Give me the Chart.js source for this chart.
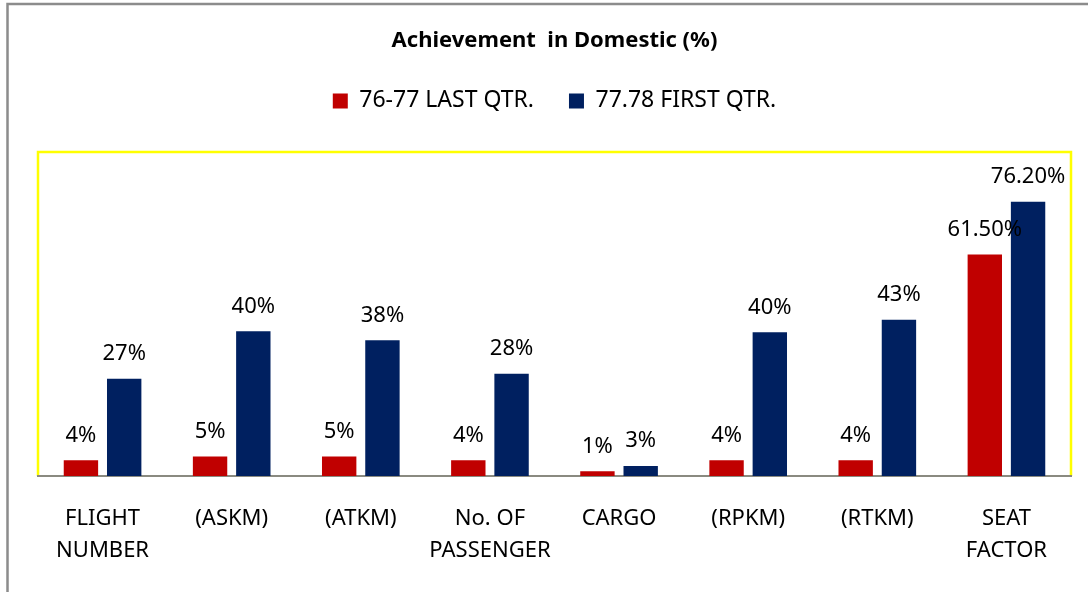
<!DOCTYPE html>
<html>
<head>
<meta charset="utf-8">
<script src="https://cdn.jsdelivr.net/npm/chart.js@4.4.1/dist/chart.umd.min.js"></script>
<style>
  body { margin: 0; background: #fff; }
  #wrap { width: 1088px; height: 592px; position: relative; }
</style>
</head>
<body>
<div id="wrap"><canvas id="achChart"></canvas></div>
<script>
const categories = [['FLIGHT', 'NUMBER'], '(ASKM)', '(ATKM)', ['No. OF', 'PASSENGER'], 'CARGO', '(RPKM)', '(RTKM)', ['SEAT', 'FACTOR']];
const lastQtr = [4.4, 5.4, 5.4, 4.4, 1.3, 4.4, 4.4, 61.5];
const firstQtr = [27, 40.2, 37.7, 28.4, 2.8, 39.9, 43.4, 76.2];
const lastQtrLabels = ['4%', '5%', '5%', '4%', '1%', '4%', '4%', '61.50%'];
const firstQtrLabels = ['27%', '40%', '38%', '28%', '3%', '40%', '43%', '76.20%'];

const FONT = 'Noto Sans';

// frame around the whole chart and the yellow plot box
const framePlugin = {
    id: 'frame',
    beforeDraw(chart) {
        const ctx = chart.ctx;
        const a = chart.chartArea;
        ctx.save();
        ctx.strokeStyle = '#8c8c8c';
        ctx.lineWidth = 2.5;
        ctx.beginPath();
        ctx.moveTo(7.5, chart.height);
        ctx.lineTo(7.5, 4);
        ctx.lineTo(chart.width, 4);
        ctx.stroke();

        ctx.strokeStyle = '#ffff00';
        ctx.lineWidth = 2.5;
        ctx.beginPath();
        ctx.moveTo(a.left, a.bottom);
        ctx.lineTo(a.left, a.top);
        ctx.lineTo(a.right, a.top);
        ctx.lineTo(a.right, a.bottom);
        ctx.stroke();
        ctx.restore();
    }
};

// value labels above each bar
const valueLabels = {
    id: 'valueLabels',
    afterDatasetsDraw(chart) {
        const ctx = chart.ctx;
        const texts = [lastQtrLabels, firstQtrLabels];
        ctx.save();
        ctx.font = '22px "' + FONT + '"';
        ctx.fillStyle = '#000';
        ctx.textAlign = 'center';
        ctx.textBaseline = 'alphabetic';
        chart.data.datasets.forEach((ds, di) => {
            chart.getDatasetMeta(di).data.forEach((bar, i) => {
                ctx.fillText(texts[di][i], bar.x, bar.y - 18.5);
            });
        });
        ctx.restore();
    }
};

chart = new Chart(document.getElementById('achChart'), {
    type: 'bar',
    data: {
        labels: categories,
        datasets: [
            {
                label: '76-77 LAST QTR.',
                data: lastQtr,
                backgroundColor: '#c00000',
                categoryPercentage: 0.67,
                barPercentage: 0.795
            },
            {
                label: '77.78 FIRST QTR.',
                data: firstQtr,
                backgroundColor: '#002060',
                categoryPercentage: 0.67,
                barPercentage: 0.795
            }
        ]
    },
    options: {
        responsive: true,
        maintainAspectRatio: false,
        animation: false,
        layout: { padding: { left: 38, right: 17, top: 0, bottom: 0 } },
        plugins: {
            title: {
                display: true,
                text: 'Achievement  in Domestic (%)',
                color: '#000',
                font: { family: FONT, size: 22, weight: 'bold' },
                padding: { top: 28, bottom: 0 }
            },
            legend: {
                display: true,
                position: 'top',
                labels: {
                    boxWidth: 15,
                    boxHeight: 15,
                    padding: 35,
                    color: '#000',
                    font: { family: FONT, size: 23 }
                }
            },
            // empty spacer between legend and plot box
            subtitle: {
                display: true,
                text: '',
                weight: 500,
                font: { size: 1, lineHeight: 1 },
                padding: { top: 0, bottom: 28.6 }
            },
            tooltip: { enabled: false }
        },
        scales: {
            x: {
                grid: { display: false, drawTicks: false },
                border: { display: true, color: '#8a8a80', width: 2 },
                ticks: {
                    color: '#000',
                    padding: 27,
                    maxRotation: 0,
                    autoSkip: false,
                    font: { family: FONT, size: 22, lineHeight: 1.45 }
                },
                afterFit(scale) { scale.height = 116; }
            },
            y: {
                display: false,
                min: 0,
                max: 90
            }
        }
    },
    plugins: [framePlugin, valueLabels]
});
</script>
</body>
</html>
